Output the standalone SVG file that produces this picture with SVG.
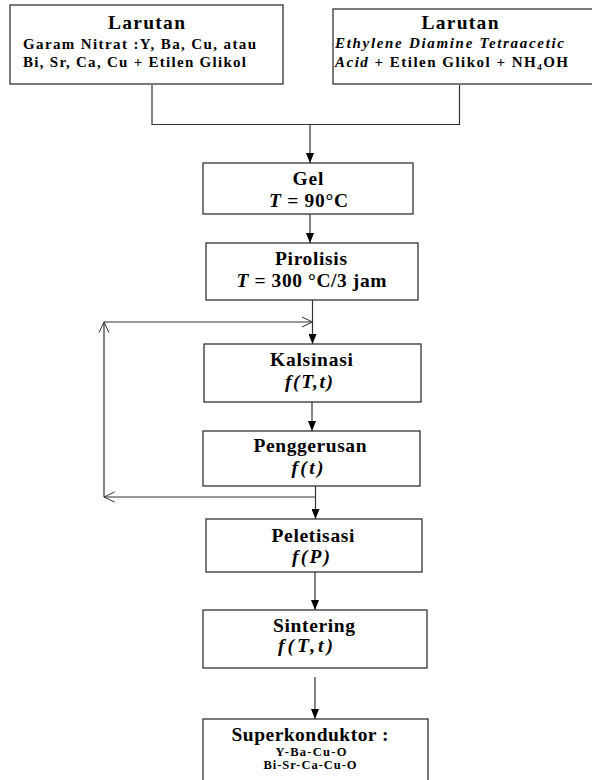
<svg xmlns="http://www.w3.org/2000/svg" width="592" height="780" viewBox="0 0 592 780">
<defs>
<style>
.box{fill:#fff;stroke:#333;stroke-width:1.3}
.ln{fill:none;stroke:#333;stroke-width:1.2}
.t{font-family:"Liberation Serif","Times New Roman",serif;fill:#000}
.h{font-weight:bold;font-size:19.5px;text-anchor:middle}
.s{font-size:15px;font-weight:bold}
.r{font-size:12.5px;font-weight:bold;text-anchor:middle}
.i{font-style:italic}
</style>
<marker id="fa" viewBox="0 0 10 8" refX="10" refY="4" markerWidth="10" markerHeight="8" markerUnits="userSpaceOnUse" orient="auto">
<path d="M0,0 L10,4 L0,8 z" fill="#000"/>
</marker>
<marker id="oa" viewBox="0 0 11 12" refX="10.5" refY="6" markerWidth="11" markerHeight="12" markerUnits="userSpaceOnUse" orient="auto">
<path d="M0,1 L10.5,6 L0,11" fill="none" stroke="#333" stroke-width="1"/>
</marker>
</defs>
<rect width="592" height="780" fill="#fff"/>

<g id="connectors">
<path class="ln" d="M152,85 V124.5 H459.5 V85"/>
<path class="ln" d="M310,124.5 V163" marker-end="url(#fa)"/>
<path class="ln" d="M310,214 V243" marker-end="url(#fa)"/>
<path class="ln" d="M312.5,300 V344" marker-end="url(#fa)"/>
<path class="ln" d="M104,497 V322" marker-end="url(#oa)"/>
<path class="ln" d="M104,322 H312.5" marker-end="url(#oa)"/>
<path class="ln" d="M312,402 V431" marker-end="url(#fa)"/>
<path class="ln" d="M315.5,486 V519" marker-end="url(#fa)"/>
<path class="ln" d="M315.5,497 H104" marker-end="url(#oa)"/>
<path class="ln" d="M315,572 V610" marker-end="url(#fa)"/>
<path class="ln" d="M315,677 V719" marker-end="url(#fa)"/>
</g>

<g id="larutan1">
<rect class="box" x="10" y="5" width="273" height="79"/>
<text class="t h" x="146.5" y="29" textLength="77" lengthAdjust="spacing">Larutan</text>
<text class="t s" x="23" y="49" textLength="233" lengthAdjust="spacing">Garam Nitrat :Y, Ba, Cu, atau</text>
<text class="t s" x="23" y="66.5" textLength="223" lengthAdjust="spacing">Bi, Sr, Ca, Cu + Etilen Glikol</text>
</g>

<g id="larutan2">
<rect class="box" x="333" y="9" width="270" height="75"/>
<text class="t h" x="460" y="29" textLength="77" lengthAdjust="spacing">Larutan</text>
<text class="t s i" x="335" y="48" textLength="229" lengthAdjust="spacing">Ethylene Diamine Tetraacetic</text>
<text class="t s" x="335" y="66.5" textLength="233" lengthAdjust="spacing"><tspan class="i">Acid</tspan>  +  Etilen Glikol + NH<tspan font-size="9" dy="3">4</tspan><tspan dy="-3">OH</tspan></text>
</g>

<g id="gel">
<rect class="box" x="203" y="163" width="210" height="51"/>
<text class="t h" x="308" y="185" textLength="31" lengthAdjust="spacing">Gel</text>
<text class="t h" x="308.5" y="207" textLength="79" lengthAdjust="spacing"><tspan class="i">T</tspan> = 90°C</text>
</g>

<g id="pirolisis">
<rect class="box" x="206" y="243" width="212" height="57"/>
<text class="t h" x="311" y="265" textLength="72" lengthAdjust="spacing">Pirolisis</text>
<text class="t h" x="311.5" y="287" textLength="150" lengthAdjust="spacing"><tspan class="i">T</tspan> = 300 °C/3 jam</text>
</g>

<g id="kalsinasi">
<rect class="box" x="204" y="344" width="217" height="58"/>
<text class="t h" x="311.5" y="366" textLength="83" lengthAdjust="spacing">Kalsinasi</text>
<text class="t h i" x="309" y="387.5" textLength="48" lengthAdjust="spacing">f(T,t)</text>
</g>

<g id="penggerusan">
<rect class="box" x="203" y="431" width="217" height="55"/>
<text class="t h" x="310" y="452" textLength="113" lengthAdjust="spacing">Penggerusan</text>
<text class="t h i" x="307.5" y="474" textLength="32" lengthAdjust="spacing">f(t)</text>
</g>

<g id="peletisasi">
<rect class="box" x="206" y="519" width="216" height="53"/>
<text class="t h" x="313" y="541.5" textLength="83" lengthAdjust="spacing">Peletisasi</text>
<text class="t h i" x="311" y="563" textLength="38" lengthAdjust="spacing">f(P)</text>
</g>

<g id="sintering">
<rect class="box" x="203" y="610" width="224" height="58"/>
<text class="t h" x="314" y="631.5" textLength="82" lengthAdjust="spacing">Sintering</text>
<text class="t h i" x="305.5" y="652" textLength="55" lengthAdjust="spacing">f(T,t)</text>
</g>

<g id="superkonduktor">
<rect class="box" x="203" y="719" width="225" height="70"/>
<text class="t h" x="310" y="740.5" textLength="157" lengthAdjust="spacing">Superkonduktor  :</text>
<text class="t r" x="311" y="755.5" textLength="71" lengthAdjust="spacing">Y-Ba-Cu-O</text>
<text class="t r" x="310" y="769" textLength="93" lengthAdjust="spacing">Bi-Sr-Ca-Cu-O</text>
</g>
</svg>
